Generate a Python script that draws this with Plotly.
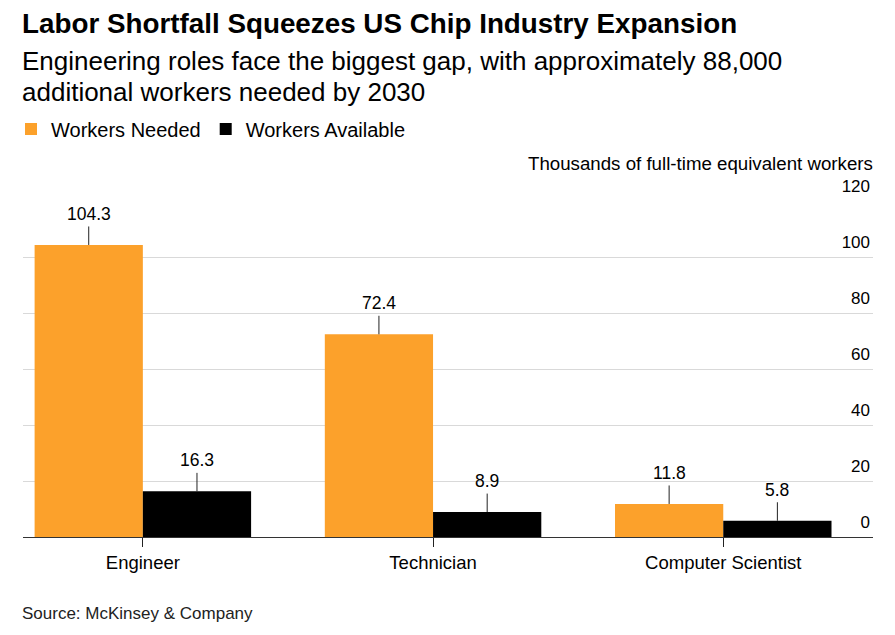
import plotly.graph_objects as go

categories = ["Engineer", "Technician", "Computer Scientist"]
workers_needed = [104.3, 72.4, 11.8]
workers_available = [16.3, 8.9, 5.8]
y_ticks = [0, 20, 40, 60, 80, 100, 120]

ORANGE = "#FCA12B"
BLACK = "#000000"
FONT = "Liberation Sans, Arial, sans-serif"

W, H = 895, 635
L, R, T, B = 22, 22, 201, 98
plot_w = W - L - R
plot_h = H - T - B
BAR_W = 0.373


def py(px):
    """Convert pixel y (from top of page) to paper coordinate."""
    return (H - B - px) / plot_h


def px_x(px):
    """Convert pixel x (from left of page) to paper coordinate."""
    return (px - L) / plot_w


fig = go.Figure()
fig.add_trace(go.Bar(
    x=categories, y=workers_needed, name="Workers Needed",
    marker=dict(color=ORANGE, line=dict(width=0)),
    width=BAR_W, offset=-BAR_W, hoverinfo="skip",
))
fig.add_trace(go.Bar(
    x=categories, y=workers_available, name="Workers Available",
    marker=dict(color=BLACK, line=dict(width=0)),
    width=BAR_W, offset=0, hoverinfo="skip",
))

annotations = []
for i, (n, a) in enumerate(zip(workers_needed, workers_available)):
    for xv, v in ((i - BAR_W / 2, n), (i + BAR_W / 2, a)):
        annotations.append(dict(
            x=xv, y=v, xref="x", yref="y", text=f"{v:.1f}",
            showarrow=True, arrowhead=0, arrowwidth=1, arrowcolor="#222",
            ax=0, ay=-31, borderpad=2,
            font=dict(family=FONT, size=17.5, color="#000"),
        ))

annotations += [
    dict(text="<b>Labor Shortfall Squeezes US Chip Industry Expansion</b>",
         x=px_x(19), xref="paper", xanchor="left", y=py(23), yref="paper", yanchor="middle",
         showarrow=False, align="left", font=dict(family=FONT, size=27.8, color="#000")),
    dict(text="Engineering roles face the biggest gap, with approximately 88,000",
         x=px_x(19), xref="paper", xanchor="left", y=py(61), yref="paper", yanchor="middle",
         showarrow=False, align="left", font=dict(family=FONT, size=26, color="#000")),
    dict(text="additional workers needed by 2030",
         x=px_x(19), xref="paper", xanchor="left", y=py(92), yref="paper", yanchor="middle",
         showarrow=False, align="left", font=dict(family=FONT, size=26, color="#000")),
    dict(text="Thousands of full-time equivalent workers",
         x=px_x(875), xref="paper", xanchor="right", y=py(163), yref="paper", yanchor="middle",
         showarrow=False, align="right", font=dict(family=FONT, size=18.7, color="#000")),
    dict(text="Source: McKinsey & Company",
         x=px_x(19), xref="paper", xanchor="left", y=py(613), yref="paper", yanchor="middle",
         showarrow=False, align="left", font=dict(family=FONT, size=17, color="#222")),
]

fig.update_layout(
    width=W, height=H,
    margin=dict(l=L, r=R, t=T, b=B, pad=0),
    paper_bgcolor="white", plot_bgcolor="white",
    barmode="group", bargap=0.253, bargroupgap=0,
    font=dict(family=FONT, size=17, color="#000"),
    showlegend=True,
    legend=dict(orientation="h", x=px_x(11), xanchor="left",
                y=py(129), yanchor="middle", font=dict(family=FONT, size=20, color="#000"),
                bgcolor="rgba(0,0,0,0)", itemclick=False, traceorder="normal"),
    annotations=annotations,
    xaxis=dict(
        type="category", range=[-0.413, 2.516],
        showgrid=False, showline=False, zeroline=False,
        ticks="outside", ticklen=9, tickwidth=1, tickcolor="#222",
        tickfont=dict(family=FONT, size=18.5, color="#000"),
        fixedrange=True,
    ),
    yaxis=dict(
        range=[0, 120], side="right", tickvals=y_ticks,
        ticklabelposition="inside top", ticklabeloverflow="allow",
        ticklabelshift=-3,
        showgrid=True, gridcolor="#D9D9D9", gridwidth=1,
        zeroline=True, zerolinecolor="#333", zerolinewidth=1,
        showline=False, ticks="",
        tickfont=dict(family=FONT, size=17, color="#000"),
        fixedrange=True,
    ),
)

fig.write_html("out.html")
